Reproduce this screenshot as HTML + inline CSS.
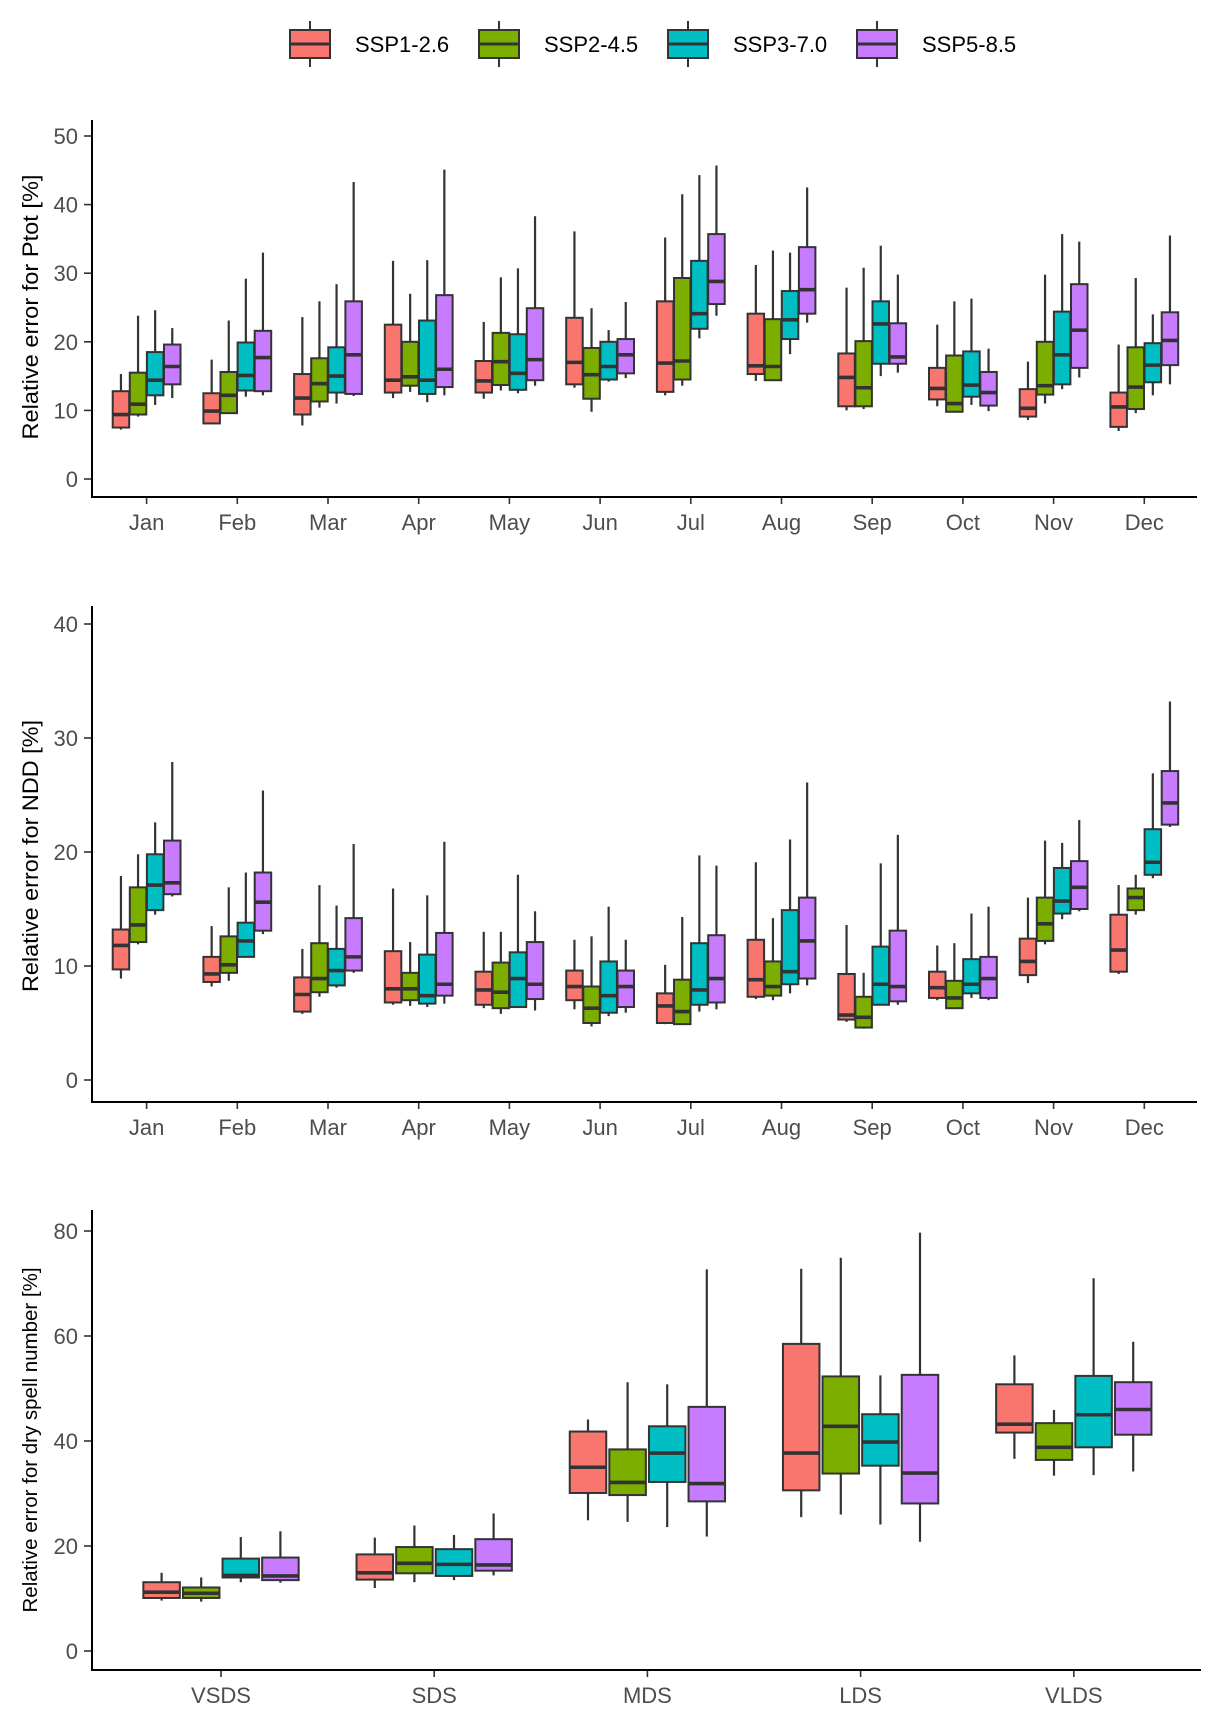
<!DOCTYPE html>
<html><head><meta charset="utf-8"><style>
html,body{margin:0;padding:0;background:#fff;}
svg{display:block;font-family:"Liberation Sans",Arial,sans-serif;}
</style></head><body>
<svg id="chart" width="1216" height="1717" viewBox="0 0 1216 1717"></svg>
<script>
// ---- data ----
const scenarios = ["SSP1-2.6","SSP2-4.5","SSP3-7.0","SSP5-8.5"];
const colors = ["#F8766D","#7CAE00","#00BFC4","#C77CFF"];
const months = ["Jan","Feb","Mar","Apr","May","Jun","Jul","Aug","Sep","Oct","Nov","Dec"];
const spellClasses = ["VSDS","SDS","MDS","LDS","VLDS"];
const ptotTicks = [0,10,20,30,40,50];
const nddTicks = [0,10,20,30,40];
const dryTicks = [0,20,40,60,80];
// each box: [whiskerLow, q1, median, q3, whiskerHigh]
const ptotSSP126 = [[7.2,7.5,9.4,12.8,15.3],[8.1,8.1,9.9,12.5,17.4],[7.8,9.4,11.8,15.3,23.6],[11.8,12.6,14.4,22.5,31.8],[11.7,12.6,14.3,17.2,22.9],[13.3,13.8,17.0,23.5,36.1],[12.2,12.7,16.9,25.9,35.2],[14.3,15.3,16.5,24.1,31.2],[10.0,10.6,14.8,18.3,27.9],[10.6,11.6,13.2,16.2,22.5],[8.6,9.1,10.3,13.1,17.1],[7.0,7.6,10.5,12.6,19.6]];
const ptotSSP245 = [[9.1,9.4,10.9,15.5,23.8],[9.6,9.6,12.2,15.6,23.1],[10.4,11.3,13.9,17.6,25.9],[12.7,13.6,14.9,20.0,27.0],[12.9,13.7,17.1,21.3,29.4],[9.8,11.7,15.2,19.1,24.9],[13.6,14.5,17.2,29.3,41.5],[14.4,14.4,16.4,23.3,33.3],[10.2,10.6,13.3,20.1,30.8],[9.8,9.8,11.0,18.0,25.9],[11.0,12.3,13.6,20.0,29.8],[9.6,10.2,13.4,19.2,29.3]];
const ptotSSP370 = [[10.8,12.2,14.4,18.5,24.6],[12.0,12.9,15.1,19.9,29.2],[11.0,12.6,15.0,19.2,28.4],[11.2,12.4,14.4,23.1,31.9],[12.5,13.0,15.4,21.1,30.7],[14.2,14.5,16.4,20.0,21.7],[20.5,21.9,24.1,31.8,44.3],[18.2,20.4,23.2,27.4,33.0],[15.0,16.8,22.6,25.9,34.0],[10.8,12.0,13.7,18.6,26.3],[13.1,13.8,18.1,24.4,35.7],[12.2,14.1,16.6,19.8,24.0]];
const ptotSSP585 = [[11.8,13.8,16.4,19.6,22.0],[12.2,12.8,17.7,21.6,33.0],[12.1,12.4,18.1,25.9,43.3],[12.2,13.4,16.0,26.8,45.1],[13.6,14.4,17.4,24.9,38.3],[14.7,15.4,18.1,20.4,25.8],[23.8,25.5,28.8,35.7,45.7],[22.8,24.1,27.6,33.8,42.5],[15.5,16.8,17.8,22.7,29.8],[9.9,10.7,12.6,15.6,19.0],[14.8,16.2,21.7,28.4,34.6],[13.8,16.6,20.2,24.3,35.5]];
const nddSSP126 = [[8.9,9.7,11.8,13.2,17.9],[8.2,8.6,9.3,10.8,13.5],[5.8,6.0,7.5,9.0,11.5],[6.6,6.8,8.0,11.3,16.8],[6.3,6.6,7.9,9.5,13.0],[6.2,7.0,8.2,9.6,12.3],[4.9,5.0,6.5,7.6,10.1],[7.1,7.3,8.8,12.3,19.1],[5.1,5.3,5.7,9.3,13.6],[7.0,7.2,8.1,9.5,11.8],[8.5,9.2,10.4,12.4,16.0],[9.3,9.5,11.4,14.5,17.1]];
const nddSSP245 = [[11.9,12.1,13.6,16.9,19.8],[8.7,9.4,10.1,12.6,16.9],[7.3,7.7,8.9,12.0,17.1],[6.5,7.0,8.0,9.4,12.1],[5.8,6.3,7.7,10.3,13.0],[4.7,5.0,6.3,8.2,12.6],[4.9,4.9,6.0,8.8,14.3],[7.0,7.4,8.2,10.4,14.2],[4.5,4.6,5.5,7.3,9.4],[6.3,6.3,7.2,8.7,12.0],[11.9,12.2,13.7,16.0,21.0],[14.5,14.9,16.0,16.8,18.0]];
const nddSSP370 = [[14.5,14.9,17.1,19.8,22.6],[10.8,10.8,12.2,13.8,18.2],[8.1,8.3,9.6,11.5,15.3],[6.4,6.7,7.4,11.0,16.2],[6.4,6.4,8.9,11.2,18.0],[5.6,5.9,7.4,10.4,15.2],[6.0,6.6,7.9,12.0,19.7],[7.6,8.4,9.5,14.9,21.1],[6.6,6.6,8.4,11.7,19.0],[7.2,7.6,8.4,10.6,14.6],[14.1,14.6,15.7,18.6,20.8],[17.7,18.0,19.1,22.0,26.9]];
const nddSSP585 = [[16.1,16.3,17.3,21.0,27.9],[12.8,13.1,15.6,18.2,25.4],[9.4,9.6,10.8,14.2,20.7],[6.7,7.4,8.4,12.9,20.9],[6.1,7.1,8.4,12.1,14.8],[5.9,6.4,8.2,9.6,12.3],[6.2,6.8,8.9,12.7,18.8],[8.3,8.9,12.2,16.0,26.1],[6.6,6.9,8.2,13.1,21.5],[7.0,7.2,8.9,10.8,15.2],[14.8,15.0,16.9,19.2,22.8],[22.2,22.4,24.3,27.1,33.2]];
const drySSP126 = [[9.6,10.1,11.2,13.1,14.9],[12.0,13.6,14.9,18.4,21.6],[24.9,30.1,35.0,41.8,44.1],[25.5,30.6,37.7,58.5,72.8],[36.6,41.6,43.2,50.8,56.3]];
const drySSP245 = [[9.4,10.1,11.0,12.1,14.0],[13.1,14.8,16.7,19.8,23.9],[24.6,29.7,32.1,38.4,51.2],[26.0,33.8,42.8,52.3,74.9],[33.4,36.4,38.8,43.4,45.9]];
const drySSP370 = [[13.1,14.0,14.4,17.6,21.7],[13.5,14.3,16.5,19.4,22.1],[23.6,32.2,37.7,42.8,50.8],[24.1,35.3,39.8,45.1,52.5],[33.5,38.8,45.0,52.4,71.0]];
const drySSP585 = [[13.0,13.5,14.3,17.8,22.8],[14.4,15.3,16.4,21.3,26.2],[21.8,28.5,31.9,46.5,72.7],[20.8,28.1,33.9,52.6,79.7],[34.2,41.2,46.0,51.2,58.9]];

// ---- drawing ----
const NS = "http://www.w3.org/2000/svg";
const svg = document.getElementById("chart");
function mk(tag, attrs, parent){
  const e = document.createElementNS(NS, tag);
  for (const k in attrs) e.setAttribute(k, attrs[k]);
  (parent||svg).appendChild(e);
  return e;
}
const OUT = "#333333";

function panel(cfg){
  const g = mk("g", {});
  
  
  const yS = v => cfg.y0 - v * cfg.unit;
  const xS = (i, s) => cfg.x0 + i * cfg.step + (s - 1.5) * cfg.dodge;
  cfg.yTicks.forEach(t => {
    const y = yS(t);
    const tk = mk("line", {x1:cfg.left-8, x2:cfg.left, y1:y, y2:y, stroke:OUT, "stroke-width":1.6}, g);
    
    
    const lb = mk("text", {x:cfg.left-14, y:y+8, "text-anchor":"end", "font-size":22, fill:"#4d4d4d"}, g);
    
    
    lb.textContent = t;
  });
  cfg.cats.forEach((c, i) => {
    const x = cfg.x0 + i * cfg.step;
    const tk = mk("line", {x1:x, x2:x, y1:cfg.bottom, y2:cfg.bottom+7, stroke:OUT, "stroke-width":1.6}, g);
    
    
    const lb = mk("text", {x:x, y:cfg.bottom+33, "text-anchor":"middle", "font-size":22, fill:"#4d4d4d"}, g);
    
    
    lb.textContent = c;
  });
  cfg.series.forEach((ser, s) => {
    ser.forEach((b, i) => {
      const cx = xS(i, s), hw = cfg.bw / 2;
      const bg = mk("g", {}, g);
      
      
      mk("line", {x1:cx, x2:cx, y1:yS(b[4]), y2:yS(b[3]), stroke:OUT, "stroke-width":2.2}, bg);
      mk("line", {x1:cx, x2:cx, y1:yS(b[1]), y2:yS(b[0]), stroke:OUT, "stroke-width":2.2}, bg);
      mk("rect", {x:cx-hw, y:yS(b[3]), width:cfg.bw, height:Math.max(0.5, yS(b[1]) - yS(b[3])), fill:colors[s], stroke:OUT, "stroke-width":2}, bg);
      mk("line", {x1:cx-hw, x2:cx+hw, y1:yS(b[2]), y2:yS(b[2]), stroke:OUT, "stroke-width":3.6}, bg);
    });
  });
  const ax = mk("line", {x1:cfg.left, x2:cfg.left, y1:cfg.top, y2:cfg.bottom+1, stroke:"#000", "stroke-width":2}, g);
  
  
  const bx = mk("line", {x1:cfg.left-1, x2:cfg.right, y1:cfg.bottom, y2:cfg.bottom, stroke:"#000", "stroke-width":2}, g);
  
  
  const tt = mk("text", {x:0, y:0, "text-anchor":"middle", "font-size":cfg.tfs, fill:"#000",
     transform:"translate(" + (cfg.tx) + "," + cfg.ty + ") rotate(-90)", textLength:cfg.tlen, lengthAdjust:"spacingAndGlyphs"}, g);
  
  
  tt.textContent = cfg.title;
}

panel({name:"ptot-panel", cats:months, series:[ptotSSP126,ptotSSP245,ptotSSP370,ptotSSP585],
  x0:146.6, step:90.7, dodge:17.1, bw:16.5, y0:479, unit:6.86, yTicks:ptotTicks,
  left:92, right:1197, top:120, bottom:497, title:"Relative error for Ptot [%]", tx:38, ty:307, tfs:22, tlen:265});
panel({name:"ndd-panel", cats:months, series:[nddSSP126,nddSSP245,nddSSP370,nddSSP585],
  x0:146.6, step:90.7, dodge:17.1, bw:16.5, y0:1080, unit:11.4, yTicks:nddTicks,
  left:92, right:1197, top:606, bottom:1102, title:"Relative error for NDD [%]", tx:38, ty:856, tfs:22, tlen:272});
panel({name:"dry-spell-panel", cats:spellClasses, series:[drySSP126,drySSP245,drySSP370,drySSP585],
  x0:221, step:213.2, dodge:39.6, bw:36.5, y0:1651, unit:5.25, yTicks:dryTicks,
  left:92, right:1201, top:1210, bottom:1670, title:"Relative error for dry spell number [%]", tx:37, ty:1440, tfs:20, tlen:345});

const legendX = [290, 479, 668, 857];
const lg = mk("g", {});


scenarios.forEach((s, i) => {
  const eg = mk("g", {}, lg);
  
  
  const x = legendX[i];
  mk("line", {x1:x+20, x2:x+20, y1:21, y2:67, stroke:OUT, "stroke-width":2}, eg);
  mk("rect", {x:x, y:30, width:40, height:28, fill:colors[i], stroke:OUT, "stroke-width":2}, eg);
  mk("line", {x1:x, x2:x+40, y1:44, y2:44, stroke:OUT, "stroke-width":3}, eg);
  const t = mk("text", {x:x+65, y:52, "font-size":22, fill:"#000"}, eg);
  t.textContent = s;
});
</script>
</body></html>
